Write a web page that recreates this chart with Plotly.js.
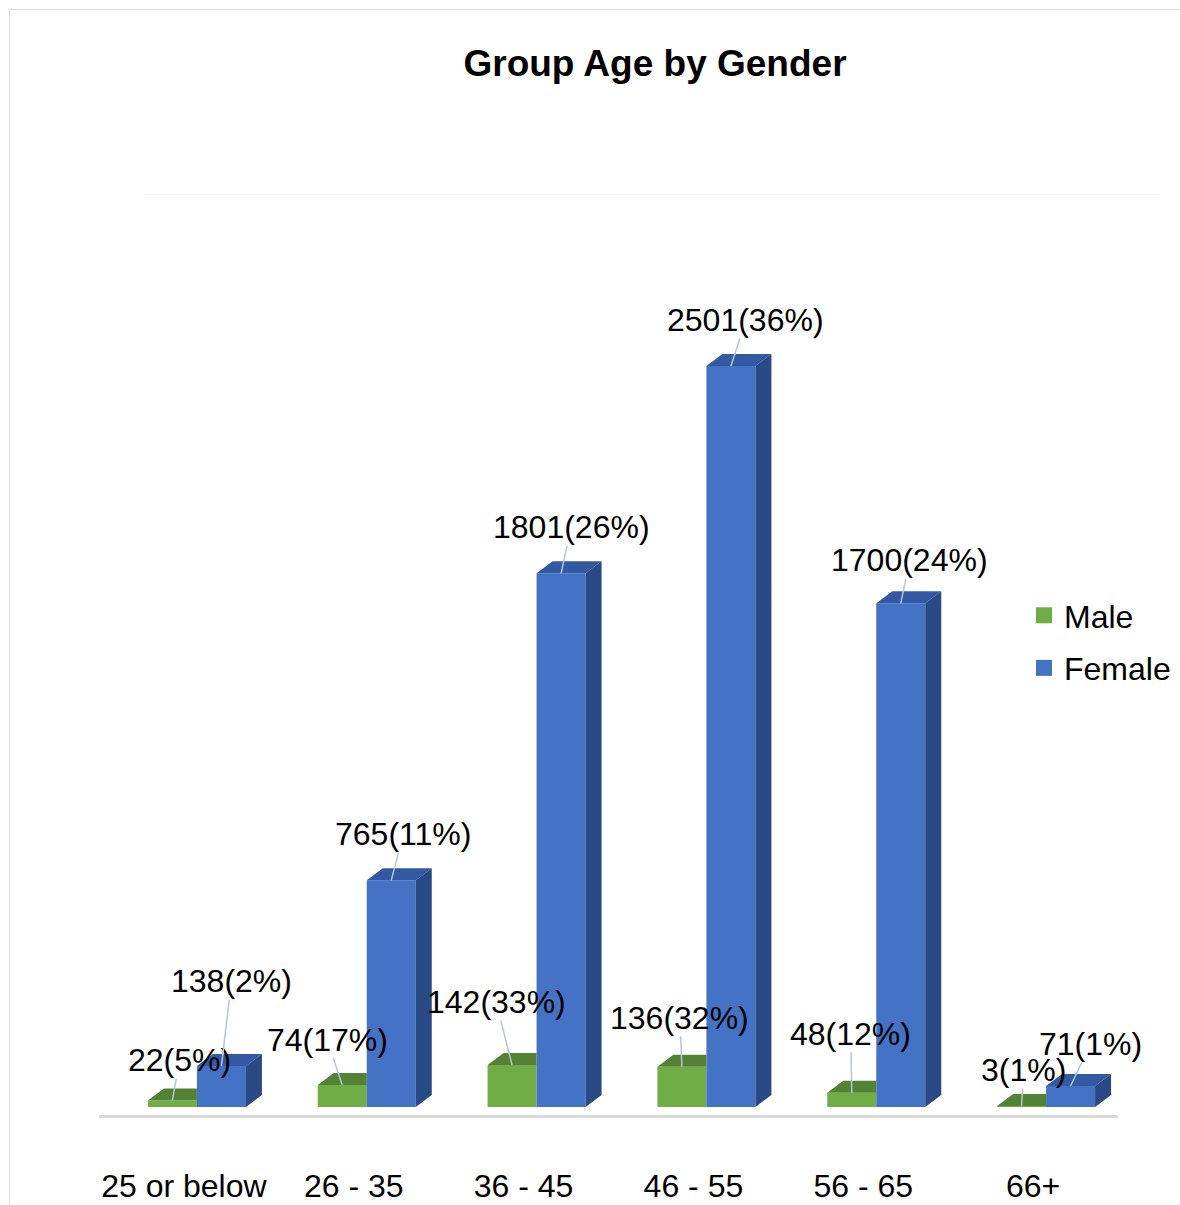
<!DOCTYPE html>
<html><head><meta charset="utf-8">
<script src="https://cdn.plot.ly/plotly-3.0.1.min.js"></script>
<style>html,body{margin:0;padding:0;background:#fff;overflow:hidden}#chart{width:1180px;height:1205px}</style>
</head><body><div id="chart"></div>
<script>
// ---- data ----
const categories = ['25 or below', '26 - 35', '36 - 45', '46 - 55', '56 - 65', '66+'];
const maleCounts = [22, 74, 142, 136, 48, 3];
const malePct = [5, 17, 33, 32, 12, 1];
const femaleCounts = [138, 765, 1801, 2501, 1700, 71];
const femalePct = [2, 11, 26, 36, 24, 1];
const seriesNames = ['Male', 'Female'];

// ---- geometry / style ----
const W = 1180, H = 1205, M = {l: 99, r: 62, t: 195, b: 90, autoexpand: false};
const xRange = [-0.5, 5.5], yRange = [-27, 3078];
const plotW = W - M.l - M.r, plotH = H - M.t - M.b;
const pxX = plotW / (xRange[1] - xRange[0]), pxY = plotH / (yRange[1] - yRange[0]);
const barW = 49 / pxX, maleOff = -36 / pxX, femaleOff = maleOff + barW;
const dX = 16 / pxX, dY = 12 / pxY;
const colors = {
  maleFront: '#70AD47', maleTop: '#548235',
  femaleFront: '#4472C4', femaleTop: '#3359A3', femaleSide: '#2A4A85'
};
const FONT = 'Liberation Sans, Arial, sans-serif';
const FS = 32;
// label text-centre offsets in px, relative to the front-top centre of each bar
const maleLabelShift = [[7, -40], [-15, -45], [-16, -63], [-2, -49], [-1, -59], [2, -36]];
const femaleLabelShift = [[10, -85], [12, -46], [10, -46], [15, -46], [9, -43], [20, -42]];

const idx = categories.map((c, i) => i);

function polyTrace(builder, vals, off, color) {
  const xs = [], ys = [];
  vals.forEach((v, i) => {
    const xl = idx[i] + off, xr = xl + barW;
    builder(xl, xr, v).forEach(p => { xs.push(p[0]); ys.push(p[1]); });
    xs.push(null); ys.push(null);
  });
  return {type: 'scatter', mode: 'lines', x: xs, y: ys, fill: 'toself', fillcolor: color,
          line: {width: 0, color: color}, hoverinfo: 'skip', showlegend: false};
}

const traces = [
  {type: 'bar', name: seriesNames[0], x: idx, y: maleCounts, offset: maleOff, width: barW,
   marker: {color: colors.maleFront, line: {width: 0}}, showlegend: false, hoverinfo: 'skip'},
  {type: 'bar', name: seriesNames[1], x: idx, y: femaleCounts, offset: femaleOff, width: barW,
   marker: {color: colors.femaleFront, line: {width: 0}}, showlegend: false, hoverinfo: 'skip'},
  polyTrace((xl, xr, v) => [[xl, v], [xr, v], [xr, v + dY], [xl + dX, v + dY], [xl, v]], maleCounts, maleOff, colors.maleTop),
  polyTrace((xl, xr, v) => [[xl, v], [xr, v], [xr + dX, v + dY], [xl + dX, v + dY], [xl, v]], femaleCounts, femaleOff, colors.femaleTop),
  polyTrace((xl, xr, v) => [[xr, 0], [xr, v], [xr + dX, v + dY], [xr + dX, dY], [xr, 0]], femaleCounts, femaleOff, colors.femaleSide),
  // legend entries (square keys)
  {type: 'scatter', mode: 'markers', name: seriesNames[0], x: [null], y: [null], legendgroup: 'm',
   marker: {symbol: 'square', size: 17, color: colors.maleFront, line: {width: 0}}},
  {type: 'scatter', mode: 'markers', name: seriesNames[1], x: [null], y: [null], legendgroup: 'f',
   marker: {symbol: 'square', size: 17, color: colors.femaleFront, line: {width: 0}}}
];

function labels(vals, pct, off, shift) {
  return vals.map((v, i) => ({
    x: idx[i] + off + barW / 2, y: v, xref: 'x', yref: 'y',
    text: v + '(' + pct[i] + '%)', showarrow: true, arrowhead: 0, arrowwidth: 1.5,
    arrowcolor: '#B4C6DC', standoff: 0, ax: shift[i][0], ay: shift[i][1],
    font: {family: FONT, size: FS, color: '#000'}, borderpad: 0
  }));
}

const px2paperX = p => (p - M.l) / plotW;
const px2paperY = p => (H - M.b - p) / plotH;

const layout = {
  width: W, height: H, margin: M,
  paper_bgcolor: '#fff', plot_bgcolor: '#fff',
  font: {family: FONT, size: FS, color: '#000'},
  title: {text: '<b>Group Age by Gender</b>', font: {family: FONT, size: 37, color: '#000'},
          x: 655 / W, xanchor: 'center', xref: 'container', y: 1 - 63 / H, yanchor: 'middle', yref: 'container'},
  barmode: 'overlay',
  xaxis: {range: xRange, tickvals: idx, ticktext: categories, showgrid: false, zeroline: false,
          showline: true, linecolor: '#D9D9D9', linewidth: 3, ticks: '', ticklabelstandoff: 41,
          tickfont: {family: FONT, size: FS, color: '#000'}, fixedrange: true},
  yaxis: {range: yRange, visible: false, fixedrange: true},
  legend: {x: px2paperX(1024), y: px2paperY(588), xanchor: 'left', yanchor: 'top',
           traceorder: 'grouped', tracegroupgap: 8, bgcolor: 'rgba(0,0,0,0)', itemsizing: 'trace',
           font: {family: FONT, size: FS, color: '#000'}},
  annotations: labels(maleCounts, malePct, maleOff, maleLabelShift)
    .concat(labels(femaleCounts, femalePct, femaleOff, femaleLabelShift)),
  shapes: [
    {type: 'line', xref: 'paper', yref: 'paper', x0: px2paperX(9), x1: px2paperX(1180), y0: px2paperY(9.5), y1: px2paperY(9.5),
     line: {color: '#DDDDDD', width: 1}},
    {type: 'line', xref: 'paper', yref: 'paper', x0: px2paperX(9.5), x1: px2paperX(9.5), y0: px2paperY(9), y1: px2paperY(1205),
     line: {color: '#DDDDDD', width: 1}},
    {type: 'line', xref: 'paper', yref: 'paper', x0: px2paperX(143), x1: px2paperX(1160), y0: px2paperY(194.5), y1: px2paperY(194.5),
     line: {color: '#F4F4F4', width: 1}}
  ]
};

Plotly.newPlot('chart', traces, layout, {displayModeBar: false, staticPlot: true});
</script>
</body></html>
